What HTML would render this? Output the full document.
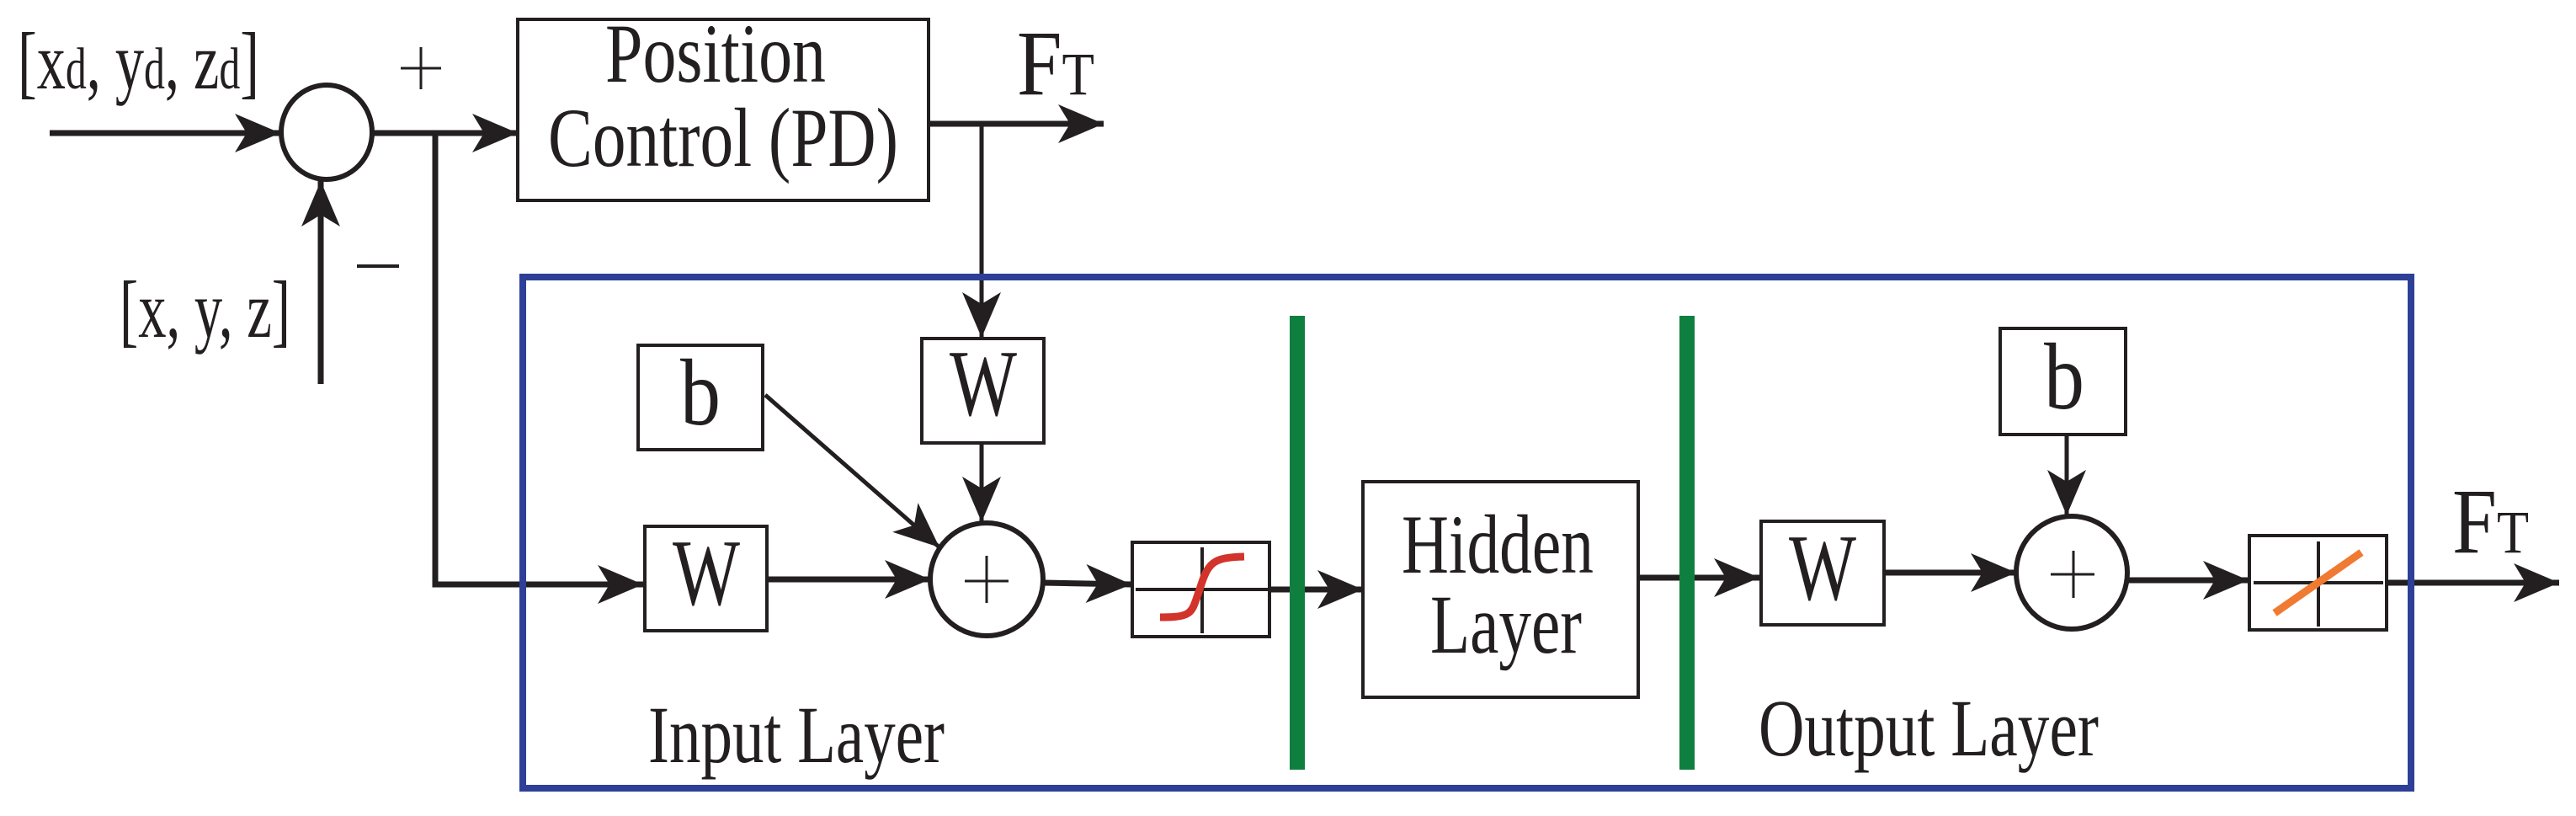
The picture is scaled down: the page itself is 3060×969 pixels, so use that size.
<!DOCTYPE html>
<html><head><meta charset="utf-8"><style>html,body{margin:0;padding:0;background:#fff}svg{display:block}
.t{font-family:"Liberation Serif","DejaVu Serif",serif;fill:#231f20}</style></head>
<body>
<svg width="3060" height="969" viewBox="0 0 3060 969" xmlns="http://www.w3.org/2000/svg">
<defs>
<marker id="a" markerUnits="userSpaceOnUse" markerWidth="56" markerHeight="50" refX="54" refY="25" orient="auto">
<path d="M0,2 L54,25 L0,48 L14,25 z" fill="#231f20"/>
</marker>
</defs>
<g stroke="#231f20" fill="none" stroke-width="7">
<line x1="59" y1="158" x2="333" y2="158" marker-end="url(#a)"/>
<ellipse cx="388" cy="157" rx="54" ry="56" stroke-width="6"/>
<line x1="442" y1="158" x2="615" y2="158" marker-end="url(#a)"/>
<polyline points="517,158 517,694 764,694" marker-end="url(#a)"/>
<line x1="381" y1="456" x2="381" y2="215" marker-end="url(#a)"/>
<rect x="615" y="23" width="488" height="215" stroke-width="4"/>
<line x1="1103" y1="147" x2="1311" y2="147" marker-end="url(#a)"/>
<line x1="1166" y1="147" x2="1166" y2="401" stroke-width="5" marker-end="url(#a)"/>
<rect x="758" y="410" width="148" height="124" stroke-width="4"/>
<rect x="1095" y="402" width="145" height="124" stroke-width="4"/>
<rect x="766" y="625" width="145" height="124" stroke-width="4"/>
<line x1="1166" y1="526" x2="1166" y2="620" stroke-width="5" marker-end="url(#a)"/>
<line x1="909" y1="469" x2="1116" y2="650" stroke-width="5" marker-end="url(#a)"/>
<line x1="911" y1="688" x2="1105" y2="688" marker-end="url(#a)"/>
<ellipse cx="1172" cy="688" rx="67" ry="67" stroke-width="6"/>
<line x1="1239" y1="692" x2="1344" y2="694" marker-end="url(#a)"/>
<rect x="1345" y="644" width="163" height="112" stroke-width="4"/>
<line x1="1349" y1="700" x2="1506" y2="700" stroke-width="4"/>
<line x1="1428" y1="650" x2="1428" y2="752" stroke-width="4"/>
<line x1="1508" y1="700" x2="1619" y2="700" marker-end="url(#a)"/>
<rect x="1619" y="572" width="327" height="256" stroke-width="4"/>
<line x1="1946" y1="686" x2="2090" y2="686" marker-end="url(#a)"/>
<rect x="2092" y="619" width="146" height="123" stroke-width="4"/>
<line x1="2238" y1="680" x2="2395" y2="680" marker-end="url(#a)"/>
<rect x="2376" y="390" width="149" height="126" stroke-width="4"/>
<line x1="2455" y1="516" x2="2455" y2="612" stroke-width="5" marker-end="url(#a)"/>
<ellipse cx="2461" cy="680" rx="66" ry="67" stroke-width="6"/>
<line x1="2528" y1="689" x2="2671" y2="689" marker-end="url(#a)"/>
<rect x="2672" y="636" width="163" height="112" stroke-width="4"/>
<line x1="2677" y1="692" x2="2831" y2="692" stroke-width="4"/>
<line x1="2754" y1="643" x2="2754" y2="744" stroke-width="4"/>
<line x1="2835" y1="692" x2="3040" y2="692" marker-end="url(#a)"/>
<!-- plus signs -->
<line x1="1146" y1="690" x2="1198" y2="690" stroke-width="3"/>
<line x1="1172" y1="660" x2="1172" y2="716" stroke-width="3"/>
<line x1="2436" y1="682" x2="2488" y2="682" stroke-width="3"/>
<line x1="2463" y1="654" x2="2463" y2="710" stroke-width="3"/>
<line x1="476" y1="81" x2="524" y2="81" stroke-width="3"/>
<line x1="500" y1="56" x2="500" y2="106" stroke-width="3"/>
<line x1="424" y1="316" x2="474" y2="316" stroke-width="4"/>
</g>
<path d="M1378,733 C1418,733 1415,728 1425,700 C1435,668 1440,662 1478,661" stroke="#d2332a" stroke-width="9" fill="none"/>
<line x1="2702" y1="728" x2="2805" y2="656" stroke="#f07a32" stroke-width="9"/>
<rect x="1532" y="375" width="18" height="539" fill="#0f7f3f"/>
<rect x="1995" y="375" width="18" height="539" fill="#0f7f3f"/>
<rect x="621" y="329" width="2243" height="607" fill="none" stroke="#2e3f97" stroke-width="8"/>
<g class="t">
<text x="21" y="105" font-size="96" textLength="287" lengthAdjust="spacingAndGlyphs">[x<tspan font-size="70">d</tspan>, y<tspan font-size="70">d</tspan>, z<tspan font-size="70">d</tspan>]</text>
<text x="142" y="400" font-size="96" textLength="203" lengthAdjust="spacingAndGlyphs">[x, y, z]</text>
<text x="850" y="97" font-size="100" text-anchor="middle" textLength="262" lengthAdjust="spacingAndGlyphs">Position</text>
<text x="859" y="197" font-size="100" text-anchor="middle" textLength="416" lengthAdjust="spacingAndGlyphs">Control (PD)</text>
<text x="1208" y="112" font-size="110" textLength="92" lengthAdjust="spacingAndGlyphs">F<tspan font-size="72">T</tspan></text>
<text x="2913" y="656" font-size="110" textLength="91" lengthAdjust="spacingAndGlyphs">F<tspan font-size="72">T</tspan></text>
<text x="832" y="504" font-size="112" text-anchor="middle" textLength="48" lengthAdjust="spacingAndGlyphs">b</text>
<text x="1168" y="493" font-size="112" text-anchor="middle" textLength="80" lengthAdjust="spacingAndGlyphs">W</text>
<text x="839" y="718" font-size="112" text-anchor="middle" textLength="80" lengthAdjust="spacingAndGlyphs">W</text>
<text x="2165" y="712" font-size="112" text-anchor="middle" textLength="80" lengthAdjust="spacingAndGlyphs">W</text>
<text x="2452" y="485" font-size="112" text-anchor="middle" textLength="48" lengthAdjust="spacingAndGlyphs">b</text>
<text x="1779" y="680" font-size="100" text-anchor="middle" textLength="228" lengthAdjust="spacingAndGlyphs">Hidden</text>
<text x="1789" y="775" font-size="100" text-anchor="middle" textLength="180" lengthAdjust="spacingAndGlyphs">Layer</text>
<text x="770" y="905" font-size="96" textLength="352" lengthAdjust="spacingAndGlyphs">Input Layer</text>
<text x="2089" y="897" font-size="96" textLength="404" lengthAdjust="spacingAndGlyphs">Output Layer</text>
</g>
</svg>
</body></html>
